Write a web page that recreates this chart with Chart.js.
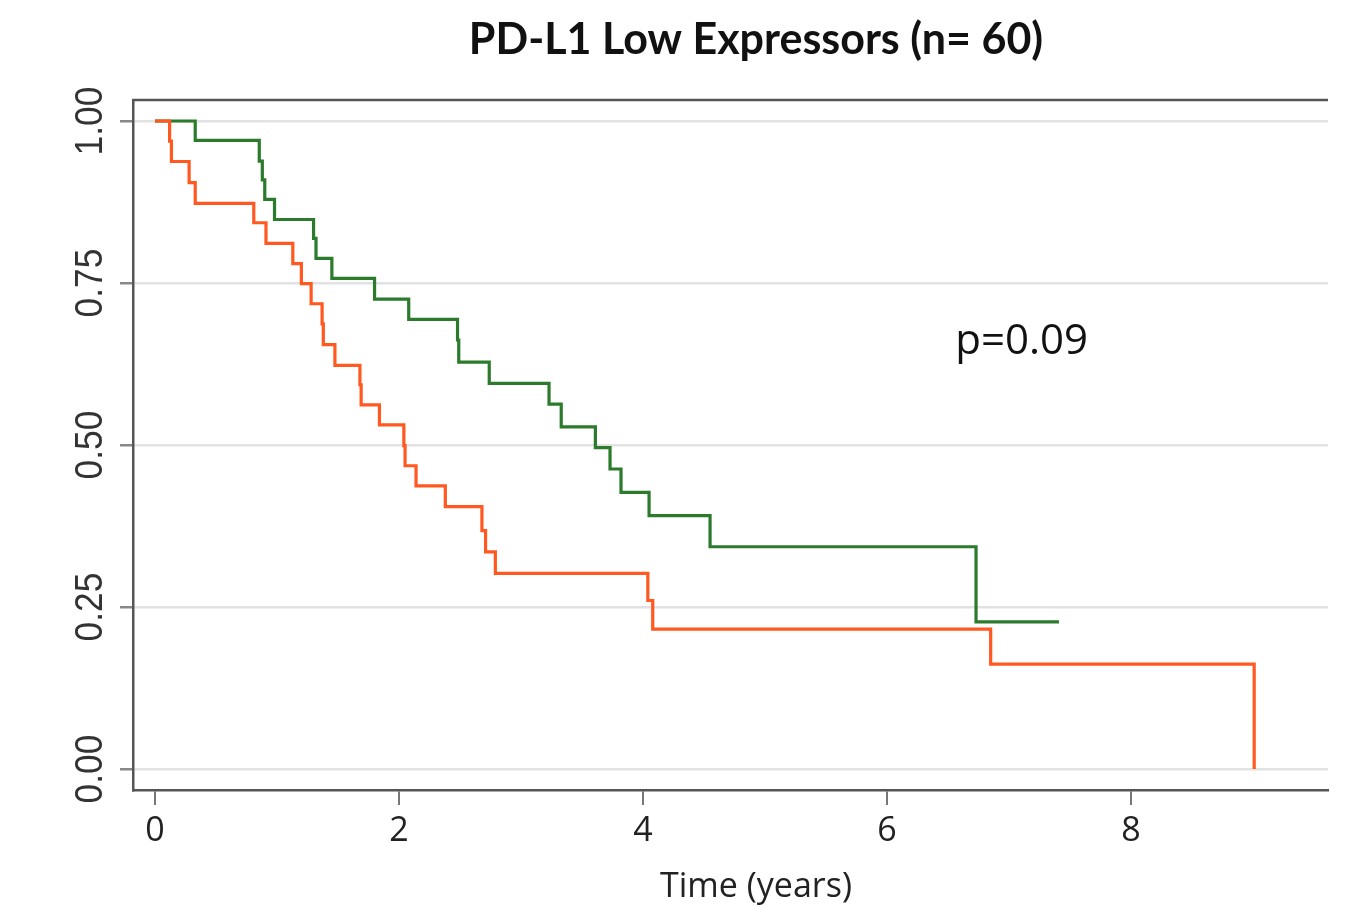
<!DOCTYPE html>
<html>
<head>
<meta charset="utf-8">
<script src="https://cdn.jsdelivr.net/npm/chart.js@4"></script>
<style>
  html, body { margin: 0; padding: 0; background: #fff; }
  #wrap { width: 1356px; height: 907px; }
</style>
</head>
<body>
<div id="wrap"><canvas id="kmChart"></canvas></div>
<script>
// Kaplan-Meier steps: time (years) and survival after each event
const orangeTimes = [0, 0.12, 0.135, 0.28, 0.33, 0.81, 0.91, 1.13, 1.20, 1.28, 1.37, 1.38, 1.475,
  1.68, 1.69, 1.84, 2.04, 2.05, 2.14, 2.38, 2.68, 2.71, 2.79, 4.04, 4.08, 6.85, 9.01];
const orangeSurv = [1.0, 0.969, 0.9375, 0.905, 0.873, 0.843, 0.811, 0.780, 0.749, 0.718, 0.687, 0.655, 0.623,
  0.593, 0.562, 0.531, 0.499, 0.468, 0.437, 0.405, 0.368, 0.335, 0.302, 0.26, 0.216, 0.162, 0.0];

const greenTimes = [0, 0.33, 0.855, 0.88, 0.90, 0.98, 1.30, 1.32, 1.45, 1.80, 2.08, 2.48, 2.49,
  2.74, 3.23, 3.33, 3.61, 3.73, 3.82, 4.05, 4.55, 6.73, 7.41];
const greenSurv = [1.0, 0.970, 0.938, 0.909, 0.879, 0.848, 0.819, 0.788, 0.757, 0.725, 0.694, 0.662, 0.628,
  0.595, 0.563, 0.528, 0.496, 0.463, 0.427, 0.391, 0.343, 0.227, 0.227];

const xTicks = [0, 2, 4, 6, 8];
const yTicks = [0, 0.25, 0.5, 0.75, 1];

const titleText = 'PD-L1 Low Expressors (n= 60)';
const xTitle = 'Time (years)';
const pText = 'p=0.09';

function toPoints(times, surv) {
  return times.map((t, i) => ({ x: t, y: surv[i] }));
}

// frame, rotated y labels and text drawn on top of the chart
const extras = {
  id: 'extras',
  afterDraw(chart) {
    const ctx = chart.ctx;
    const area = chart.chartArea;
    const xs = chart.scales.x;
    const ys = chart.scales.y;
    ctx.save();

    // top border of the frame
    ctx.strokeStyle = '#555';
    ctx.lineWidth = 2.5;
    ctx.beginPath();
    ctx.moveTo(area.left - 1, area.top);
    ctx.lineTo(area.right, area.top);
    ctx.stroke();

    // y tick labels, rotated
    ctx.fillStyle = '#333';
    ctx.font = '38px "Liberation Sans", Arial, sans-serif';
    ctx.textAlign = 'center';
    ctx.textBaseline = 'middle';
    yTicks.forEach(v => {
      const py = ys.getPixelForValue(v);
      ctx.save();
      ctx.translate(92, py);
      ctx.rotate(-Math.PI / 2);
      ctx.scale(0.93, 1);
      ctx.fillText(v.toFixed(2), 0, 0);
      ctx.restore();
    });

    // title
    ctx.fillStyle = '#111';
    ctx.font = 'bold 43px Lato, "Open Sans", sans-serif';
    ctx.fillText(titleText, 756, 40);

    // x axis title
    ctx.font = '34px "Open Sans", sans-serif';
    ctx.fillStyle = '#222';
    ctx.fillText(xTitle, 756, 887);

    // p value
    ctx.font = '42px "Open Sans", sans-serif';
    ctx.textAlign = 'left';
    ctx.fillStyle = '#111';
    ctx.fillText(pText, xs.getPixelForValue(6.56), ys.getPixelForValue(0.659));

    ctx.restore();
  }
};

const ctx = document.getElementById('kmChart').getContext('2d');
new Chart(ctx, {
  type: 'line',
  data: {
    datasets: [
      {
        label: 'Orange',
        data: toPoints(orangeTimes, orangeSurv),
        borderColor: 'rgb(255, 88, 32)',
        borderWidth: 3.2,
        stepped: 'before',
        pointRadius: 0,
        fill: false,
        order: 0
      },
      {
        label: 'Green',
        data: toPoints(greenTimes, greenSurv),
        borderColor: 'rgb(44, 122, 44)',
        borderWidth: 3.2,
        stepped: 'before',
        pointRadius: 0,
        fill: false,
        order: 1
      }
    ]
  },
  options: {
    responsive: true,
    maintainAspectRatio: false,
    animation: false,
    layout: {
      padding: { top: 100, right: 28, bottom: 0, left: 0 }
    },
    scales: {
      x: {
        type: 'linear',
        min: -0.18,
        max: 9.615,
        afterBuildTicks: scale => { scale.ticks = xTicks.map(v => ({ value: v })); },
        afterFit: scale => { scale.height = 117; },
        border: { color: '#555', width: 2.5 },
        grid: { drawOnChartArea: false, tickLength: 15, tickColor: '#777', lineWidth: 2 },
        ticks: {
          color: '#222',
          padding: 6,
          maxRotation: 0,
          font: { family: '"Open Sans", sans-serif', size: 34 }
        }
      },
      y: {
        type: 'linear',
        min: -0.0324,
        max: 1.0324,
        afterBuildTicks: scale => { scale.ticks = yTicks.map(v => ({ value: v })); },
        afterFit: scale => { scale.width = 133; },
        border: { color: '#555', width: 2.5 },
        grid: { color: '#e2e2e2', lineWidth: 2.5, tickLength: 13, tickColor: '#888' },
        ticks: { display: false }
      }
    },
    plugins: {
      legend: { display: false },
      title: { display: false },
      tooltip: { enabled: false }
    }
  },
  plugins: [extras]
});
</script>
</body>
</html>
